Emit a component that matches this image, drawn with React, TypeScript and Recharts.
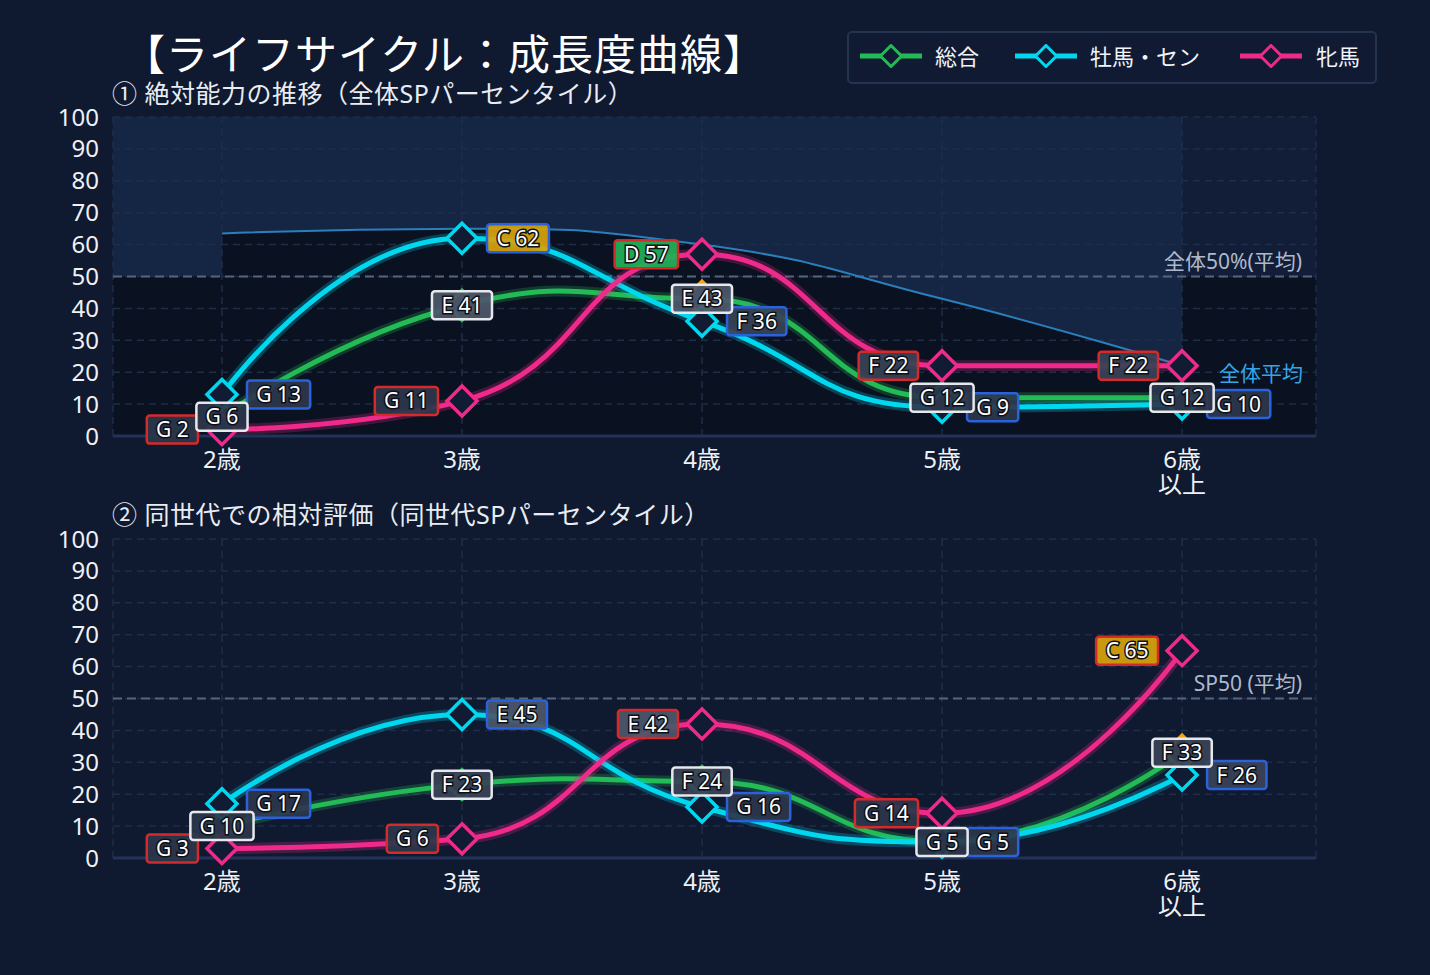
import React from "react";
import {
  ComposedChart,
  Line,
  Area,
  XAxis,
  YAxis,
  CartesianGrid,
  ReferenceLine,
  ReferenceArea,
} from "recharts";

// ---- data ----
const ages = ["2歳", "3歳", "4歳", "5歳", "6歳\n以上"];
const ageIndex = [0, 1, 2, 3, 4];
const yTicks = [0, 10, 20, 30, 40, 50, 60, 70, 80, 90, 100];

// ① 絶対能力 (全体SPパーセンタイル)
const absTotal = [6, 41, 43, 12, 12];
const absTotalGrade = ["G", "E", "E", "G", "G"];
const absColt = [13, 62, 36, 9, 10];
const absColtGrade = ["G", "C", "F", "G", "G"];
const absFilly = [2, 11, 57, 22, 22];
const absFillyGrade = ["G", "G", "D", "F", "F"];
const absAverage = [63.5, 65, 60, 43, 22];

// ② 同世代での相対評価
const relTotal = [10, 23, 24, 5, 33];
const relTotalGrade = ["G", "F", "F", "G", "F"];
const relColt = [17, 45, 16, 5, 26];
const relColtGrade = ["G", "E", "G", "G", "F"];
const relFilly = [3, 6, 42, 14, 65];
const relFillyGrade = ["G", "G", "E", "G", "C"];

const absRows = ages.map((age, k) => ({
  i: ageIndex[k],
  age,
  total: absTotal[k],
  totalGrade: absTotalGrade[k],
  colt: absColt[k],
  coltGrade: absColtGrade[k],
  filly: absFilly[k],
  fillyGrade: absFillyGrade[k],
  average: absAverage[k],
}));

const relRows = ages.map((age, k) => ({
  i: ageIndex[k],
  age,
  total: relTotal[k],
  totalGrade: relTotalGrade[k],
  colt: relColt[k],
  coltGrade: relColtGrade[k],
  filly: relFilly[k],
  fillyGrade: relFillyGrade[k],
}));

// ---- style ----
const FONT = "'Noto Sans', 'Noto Sans CJK JP', sans-serif";
const PAGE = "#0f1930";
const DARK = "#0a1121";
const LIGHT = "#152644";
const LIGHT2 = "#121e38";
const GRID = "#1f2d4a";
const GREEN = "#22bb55";
const CYAN = "#00d8f0";
const PINK = "#f02a8a";
const W = 1430;
const H = 500;
const X_DOMAIN = [-0.454, 4.558];
const BADGE_FONT = 21;

const GRADE_FILL: Record<string, string> = {
  C: "#d6a20c",
  D: "#20b158",
  E: "#4c576b",
  F: "#394356",
  G: "#2c374b",
};

// smooth curve: flat at extremes, handle toward previous point kept in range
function smoothCurve(context: any) {
  let pts: number[][] = [];
  let line = NaN;
  const S = 0.5;
  return {
    areaStart() {
      line = 0;
    },
    areaEnd() {
      line = NaN;
    },
    lineStart() {
      pts = [];
    },
    point(x: number, y: number) {
      pts.push([+x, +y]);
    },
    lineEnd() {
      const n = pts.length;
      if (n > 0) {
        const rev = n > 1 && pts[0][0] > pts[n - 1][0];
        const P = rev ? pts.slice().reverse() : pts;
        const cin: number[][] = [];
        const cout: number[][] = [];
        for (let k = 0; k < n; k++) {
          const [x, y] = P[k];
          if (k === 0 || k === n - 1) {
            cin[k] = [x, y];
            cout[k] = [x, y];
            continue;
          }
          const [px, py] = P[k - 1];
          const [nx, ny] = P[k + 1];
          const l0 = Math.hypot(x - px, y - py) || 1;
          const l1 = Math.hypot(nx - x, ny - y) || 1;
          const r = l1 / (l0 + l1);
          const vx = nx - px;
          let vy = ny - py;
          if ((y - py) * (ny - y) <= 0) vy = 0;
          const ix = x - vx * S * (1 - r);
          let iy = y - vy * S * (1 - r);
          iy = Math.min(iy, Math.max(py, y));
          iy = Math.max(iy, Math.min(py, y));
          cin[k] = [ix, iy];
          cout[k] = [x + (x - ix) * (l1 / l0), y + (y - iy) * (l1 / l0)];
        }
        const s = rev ? P[n - 1] : P[0];
        if (line) context.lineTo(s[0], s[1]);
        else context.moveTo(s[0], s[1]);
        if (!rev) {
          for (let k = 1; k < n; k++)
            context.bezierCurveTo(cout[k - 1][0], cout[k - 1][1], cin[k][0], cin[k][1], P[k][0], P[k][1]);
        } else {
          for (let k = n - 2; k >= 0; k--)
            context.bezierCurveTo(cin[k + 1][0], cin[k + 1][1], cout[k][0], cout[k][1], P[k][0], P[k][1]);
        }
      }
      if (line || (line !== 0 && n === 1)) context.closePath();
      line = 1 - line;
    },
  };
}

const charW = (t: string) => {
  const m: Record<string, number> = { " ": 0.26, G: 0.7, E: 0.55, F: 0.52, C: 0.64, D: 0.71 };
  let w = 0;
  for (const c of t) w += m[c] ?? 0.572;
  return w * BADGE_FONT;
};

const makeBadge =
  (key: string, gradeKey: string, side: string, border: string) => (p: any) => {
    const { cx, cy, payload, index } = p;
    if (cx == null || cy == null) return <g key={`b-${key}-${index}`} />;
    const grade = payload[gradeKey];
    const text = `${grade} ${payload[key]}`;
    const w = charW(text) + 19;
    const h = 28;
    const x0 = side === "center" ? cx - w / 2 : side === "right" ? cx + 25 : cx - 24 - w;
    return (
      <g key={`b-${key}-${index}`}>
        <rect
          x={x0}
          y={cy - h / 2}
          width={w}
          height={h}
          rx={3}
          fill={GRADE_FILL[grade]}
          fillOpacity={0.93}
          stroke={border}
          strokeWidth={2.5}
        />
        <text
          x={x0 + w / 2}
          y={cy + 7.5}
          textAnchor="middle"
          fontSize={BADGE_FONT}
          fontFamily={FONT}
          fill="#ffffff"
          stroke="#0b0f18"
          strokeWidth={3}
          paintOrder="stroke"
        >
          {text}
        </text>
      </g>
    );
  };

const makeDiamond = (color: string, peakIndex = -1) => (p: any) => {
  const { cx, cy, index } = p;
  if (cx == null || cy == null) return <g key={`d-${color}-${index}`} />;
  const peak = index === peakIndex;
  const r = peak ? 17.5 : 15;
  return (
    <path
      key={`d-${color}-${index}`}
      d={`M${cx},${cy - r}L${cx + r},${cy}L${cx},${cy + r}L${cx - r},${cy}Z`}
      fill="#111b33"
      stroke={peak ? "#f2a516" : color}
      strokeWidth={3.5}
    />
  );
};

function AgeTick(props: any) {
  const { x, y, payload } = props;
  const lines = (ages[payload.value] || "").split("\n");
  return (
    <text x={x} y={y} textAnchor="middle" fontSize={24} fontFamily={FONT} fill="#eef1f6">
      {lines.map((l, k) => (
        <tspan key={k} x={x} dy={k === 0 ? 30 : 25}>
          {l}
        </tspan>
      ))}
    </text>
  );
}

function RefLabel(props: any) {
  const { viewBox, text } = props;
  if (!viewBox) return null;
  return (
    <text
      x={viewBox.x + viewBox.width - 14}
      y={viewBox.y - 8}
      textAnchor="end"
      fontSize={21}
      fontFamily={FONT}
      fill="#aeb9cb"
    >
      {text}
    </text>
  );
}

function Panel({ rows, top, withAverage, refText }: any) {
  const peak = rows.reduce((b: number, r: any, k: number) => (r.total > rows[b].total ? k : b), 0);
  const lineProps = { isAnimationActive: false, activeDot: false, legendType: "none" as const };
  return (
    <div style={{ position: "absolute", left: 0, top, width: W, height: H }}>
      <div style={{ position: "absolute", left: 0, top: 0 }}>
        <ComposedChart width={W} height={H} data={rows} margin={{ top: 117, right: 114, bottom: 64, left: 113 }}>
          <XAxis type="number" dataKey="i" domain={X_DOMAIN} hide />
          <YAxis domain={[0, 100]} hide />
          <ReferenceArea x1={X_DOMAIN[0]} x2={X_DOMAIN[1]} y1={0} y2={100} fill={DARK} fillOpacity={1} stroke="none" />
          {withAverage ? (
            <>
              <ReferenceArea x1={X_DOMAIN[0]} x2={0} y1={50} y2={100} fill={LIGHT} fillOpacity={1} stroke="none" />
              <ReferenceArea x1={4} x2={X_DOMAIN[1]} y1={50} y2={100} fill={LIGHT2} fillOpacity={1} stroke="none" />
              <Area
                dataKey={(d: any) => [d.average, 100]}
                type={smoothCurve as any}
                fill={LIGHT}
                fillOpacity={1}
                stroke="none"
                isAnimationActive={false}
              />
            </>
          ) : (
            <ReferenceArea x1={X_DOMAIN[0]} x2={X_DOMAIN[1]} y1={50} y2={100} fill={LIGHT2} fillOpacity={1} stroke="none" />
          )}
        </ComposedChart>
      </div>
      <div style={{ position: "absolute", left: 0, top: 0 }}>
        <ComposedChart width={W} height={H} data={rows} margin={{ top: 117, right: 114, bottom: 0, left: 0 }}>
          <CartesianGrid stroke={GRID} strokeDasharray="7 5" strokeWidth={1.5} />
          <XAxis
            type="number"
            dataKey="i"
            domain={X_DOMAIN}
            ticks={ageIndex}
            interval={0}
            height={64}
            tickSize={0}
            tick={<AgeTick />}
            axisLine={{ stroke: "#22325a", strokeWidth: 3 }}
            tickLine={false}
          />
          <YAxis
            domain={[0, 100]}
            ticks={yTicks}
            interval={0}
            width={113}
            tickSize={0}
            tickMargin={14}
            axisLine={false}
            tickLine={false}
            tick={{ fill: "#eef1f6", fontSize: 24, fontFamily: FONT }}
          />
          <ReferenceLine
            y={50}
            stroke="#56657f"
            strokeDasharray="9 5"
            strokeWidth={2}
            label={<RefLabel text={refText} />}
          />
          {withAverage && (
            <Line dataKey="average" type={smoothCurve as any} stroke="#2a7fbd" strokeWidth={2} dot={false} {...lineProps} />
          )}
          <Line dataKey="total" type={smoothCurve as any} stroke={GREEN} strokeOpacity={0.25} strokeWidth={11} dot={false} {...lineProps} />
          <Line dataKey="total" type={smoothCurve as any} stroke={GREEN} strokeWidth={5} dot={makeDiamond(GREEN, peak)} {...lineProps} />
          <Line dataKey="colt" type={smoothCurve as any} stroke={CYAN} strokeOpacity={0.25} strokeWidth={11} dot={false} {...lineProps} />
          <Line dataKey="colt" type={smoothCurve as any} stroke={CYAN} strokeWidth={5} dot={makeDiamond(CYAN)} {...lineProps} />
          <Line dataKey="filly" type={smoothCurve as any} stroke={PINK} strokeOpacity={0.25} strokeWidth={11} dot={false} {...lineProps} />
          <Line dataKey="filly" type={smoothCurve as any} stroke={PINK} strokeWidth={5} dot={makeDiamond(PINK)} {...lineProps} />
          <Line dataKey="colt" stroke="none" dot={makeBadge("colt", "coltGrade", "right", "#2a62dc")} {...lineProps} />
          <Line dataKey="filly" stroke="none" dot={makeBadge("filly", "fillyGrade", "left", "#d42a2a")} {...lineProps} />
          <Line dataKey="total" stroke="none" dot={makeBadge("total", "totalGrade", "center", "#e6e8ec")} {...lineProps} />
        </ComposedChart>
      </div>
    </div>
  );
}

function LegendIcon({ color }: { color: string }) {
  return (
    <svg width={64} height={24} style={{ display: "block" }}>
      <line x1={1} y1={12} x2={63} y2={12} stroke={color} strokeWidth={5} />
      <path d="M32,1.5L42.5,12L32,22.5L21.5,12Z" fill="#111b33" stroke={color} strokeWidth={3} />
    </svg>
  );
}

const legendItems = [
  { name: "総合", color: GREEN, left: 859, textLeft: 935 },
  { name: "牡馬・セン", color: CYAN, left: 1014, textLeft: 1090 },
  { name: "牝馬", color: PINK, left: 1239, textLeft: 1316 },
];

export default function App() {
  const text = (s: React.CSSProperties) => ({
    position: "absolute" as const,
    fontFamily: FONT,
    lineHeight: 1,
    whiteSpace: "nowrap" as const,
    ...s,
  });
  return (
    <div
      style={{
        position: "absolute",
        left: 0,
        top: 0,
        width: W,
        height: 975,
        background: PAGE,
        overflow: "hidden",
        fontFamily: FONT,
      }}
    >
      <Panel rows={absRows} top={0} withAverage refText="全体50%(平均)" />
      <Panel rows={relRows} top={422} withAverage={false} refText="SP50 (平均)" />

      <div style={text({ left: 123, top: 33, fontSize: 42, letterSpacing: 1, color: "#ffffff" })}>
        【ライフサイクル：成長度曲線】
      </div>
      <div style={text({ left: 112, top: 81, fontSize: 25, letterSpacing: 0.5, color: "#e9edf3" })}>
        ① 絶対能力の推移（全体SPパーセンタイル）
      </div>
      <div style={text({ left: 112, top: 502, fontSize: 25, letterSpacing: 0.5, color: "#e9edf3" })}>
        ② 同世代での相対評価（同世代SPパーセンタイル）
      </div>
      <div style={text({ right: 1430 - 1303, top: 363, fontSize: 21, color: "#33a6e4" })}>全体平均</div>

      <div
        style={{
          position: "absolute",
          left: 847,
          top: 31,
          width: 526,
          height: 49,
          border: "2px solid #24344f",
          borderRadius: 5,
          background: "#101b33",
        }}
      />
      {legendItems.map((it) => (
        <React.Fragment key={it.name}>
          <div style={{ position: "absolute", left: it.left, top: 44 }}>
            <LegendIcon color={it.color} />
          </div>
          <div style={text({ left: it.textLeft, top: 45, fontSize: 22, color: "#f2f4f8" })}>{it.name}</div>
        </React.Fragment>
      ))}
    </div>
  );
}
